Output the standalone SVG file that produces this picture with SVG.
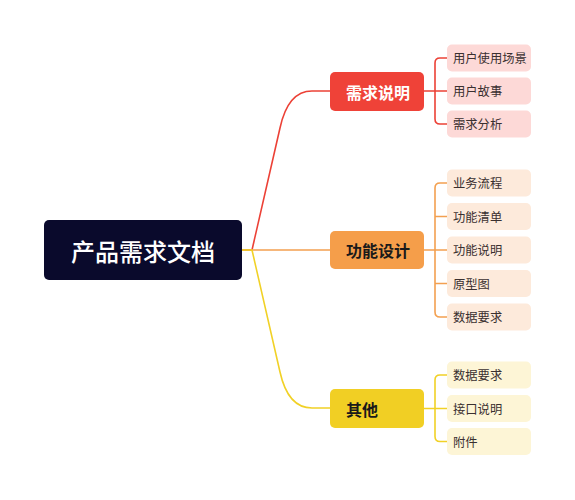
<svg xmlns="http://www.w3.org/2000/svg" width="575" height="500" viewBox="0 0 575 500">
<style>
text{font-family:"Noto Sans CJK SC","Noto Sans",sans-serif;}
.c{fill:none;stroke-width:1.6;stroke-linecap:round;stroke-linejoin:round;}
.red{stroke:#ec4136;}
.org{stroke:#f3a050;}
.yel{stroke:#f1d126;}
.main{font-size:16px;font-weight:bold;dominant-baseline:central;}
.sub{font-size:12.3px;fill:#3a3030;dominant-baseline:central;}
</style>
<rect width="575" height="500" fill="#ffffff"/>
<g id="connectors">
<path class="c red" d="M242,250 L252,250 L280,128 Q288,91 312,91 L330,91"/>
<path class="c org" d="M242,250 L330,250"/>
<path class="c yel" d="M242,250 L252,250 L280,372 Q288,408 312,408 L330,408"/>
<path class="c red" d="M424,91 L447,91 M447,58 L440,58 Q435,58 435,63 L435,119 Q435,124 440,124 L447,124"/>
<path class="c org" d="M424,250 L447,250 M447,183 L440,183 Q435,183 435,188 L435,312 Q435,317 440,317 L447,317 M435,216.5 L447,216.5 M435,283.5 L447,283.5"/>
<path class="c yel" d="M424,408.5 L447,408.5 M447,375 L440,375 Q435,375 435,380 L435,436.5 Q435,441.5 440,441.5 L447,441.5"/>
</g>
<g id="root">
<rect x="44" y="220" width="198" height="60" rx="5" fill="#0a0a2c"/>
<text x="143" y="250" font-size="24" font-weight="500" fill="#ffffff" text-anchor="middle" dominant-baseline="central">产品需求文档</text>
</g>
<g id="n-xuqiu">
<rect x="330" y="72" width="94" height="39" rx="5" fill="#ef4238"/>
<text class="main" x="346" y="91.5" fill="#ffffff">需求说明</text>
</g>
<g id="n-gongneng">
<rect x="330" y="231" width="94" height="38" rx="5" fill="#f59e4a"/>
<text class="main" x="346" y="250" fill="#1a1a1a">功能设计</text>
</g>
<g id="n-qita">
<rect x="330" y="389" width="94" height="39" rx="5" fill="#f1cf24"/>
<text class="main" x="346" y="408.5" fill="#1a1a1a">其他</text>
</g>
<g id="c1"><rect x="447" y="44.5" width="84" height="27" rx="5" fill="#fdd9d7"/><text class="sub" x="453" y="58">用户使用场景</text></g>
<g id="c2"><rect x="447" y="77.5" width="84" height="27" rx="5" fill="#fdd9d7"/><text class="sub" x="453" y="91">用户故事</text></g>
<g id="c3"><rect x="447" y="110.5" width="84" height="27" rx="5" fill="#fdd9d7"/><text class="sub" x="453" y="124">需求分析</text></g>
<g id="c4"><rect x="447" y="169.5" width="84" height="27" rx="5" fill="#fdeadb"/><text class="sub" x="453" y="183">业务流程</text></g>
<g id="c5"><rect x="447" y="203" width="84" height="27" rx="5" fill="#fdeadb"/><text class="sub" x="453" y="216.5">功能清单</text></g>
<g id="c6"><rect x="447" y="236.5" width="84" height="27" rx="5" fill="#fdeadb"/><text class="sub" x="453" y="250">功能说明</text></g>
<g id="c7"><rect x="447" y="270" width="84" height="27" rx="5" fill="#fdeadb"/><text class="sub" x="453" y="283.5">原型图</text></g>
<g id="c8"><rect x="447" y="303.5" width="84" height="27" rx="5" fill="#fdeadb"/><text class="sub" x="453" y="317">数据要求</text></g>
<g id="c9"><rect x="447" y="361.5" width="84" height="27" rx="5" fill="#fdf5d6"/><text class="sub" x="453" y="375">数据要求</text></g>
<g id="c10"><rect x="447" y="395" width="84" height="27" rx="5" fill="#fdf5d6"/><text class="sub" x="453" y="408.5">接口说明</text></g>
<g id="c11"><rect x="447" y="428" width="84" height="27" rx="5" fill="#fdf5d6"/><text class="sub" x="453" y="441.5">附件</text></g>
</svg>
